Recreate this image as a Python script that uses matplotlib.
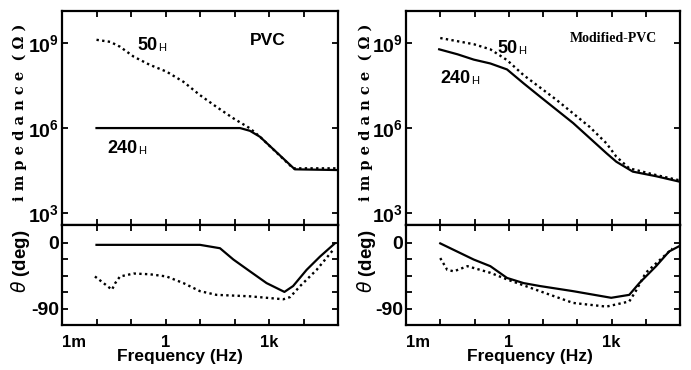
import matplotlib
matplotlib.use("Agg")
import matplotlib.pyplot as plt
from matplotlib.ticker import FixedLocator, NullLocator

# ---- data (frequency in Hz, impedance in ohm, phase in deg)
pvc_50h_f = [0.01, 0.025, 0.048, 0.12, 0.35, 1.07, 3.3, 10, 30, 93, 280, 550, 5000, 1e5]
pvc_50h_z = [1.3e9, 1.1e9, 7.4e8, 3.3e8, 1.7e8, 9.8e7, 4.3e7, 1.45e7, 5.6e6, 2.2e6,
             9.8e5, 4.9e5, 3.8e4, 3.8e4]
pvc_240h_f = [0.01, 145, 280, 550, 5600, 1e5]
pvc_240h_z = [1e6, 1e6, 8e5, 4.9e5, 3.5e4, 3.3e4]

pvc_240h_pf = [0.01, 10, 38, 93, 280, 850, 2800, 5000, 12300, 30000, 81000]
pvc_240h_deg = [-3, -3, -7.6, -23, -39, -55, -67, -59, -37, -19, -1]
pvc_50h_pf = [0.009, 0.016, 0.028, 0.035, 0.048, 0.12, 0.35, 1.07, 3.3, 10, 30, 280,
              2600, 4100, 8000, 24000, 72000]
pvc_50h_deg = [-46, -55, -64, -55, -46, -42, -43, -46, -55, -66, -71, -73, -77, -74,
               -59, -37, -10]

mod_50h_f = [0.01, 0.095, 0.29, 0.89, 2.7, 25, 230, 710, 1380, 3300, 20000, 93000]
mod_50h_z = [1.5e9, 9.1e8, 6e8, 2.5e8, 7.4e7, 9.8e6, 1.1e6, 2.9e5, 9.8e4, 3.8e4,
             2.2e4, 1.45e4]
mod_240h_f = [0.0093, 0.032, 0.095, 0.29, 0.89, 2.7, 8.1, 76, 710, 1380, 4200, 20000, 93000]
mod_240h_z = [6e8, 4e8, 2.6e8, 1.9e8, 1.17e8, 3.8e7, 1.3e7, 1.5e6, 1.3e5, 6.5e4,
              2.9e4, 2e4, 1.3e4]

mod_240h_pf = [0.01, 0.095, 0.29, 0.89, 2.7, 8.1, 76, 980, 3300, 6500, 20000, 48000, 93000]
mod_240h_deg = [-1, -23, -32, -48, -55, -59, -66, -75, -71, -55, -32, -12, -5]
mod_50h_pf = [0.01, 0.016, 0.025, 0.062, 0.29, 0.89, 8.1, 76, 710, 3300, 5100, 10000, 60000]
mod_50h_deg = [-21, -37, -39, -32, -41, -50, -66, -82, -87, -80, -66, -41, -8]

freq_ticks = [1e-3, 1e-2, 1e-1, 1, 10, 100, 1e3, 1e4, 1e5]
freq_labels = ["1m", "", "", "1", "", "", "1k", "", ""]
z_ticks = [1e3, 1e6, 1e9]
z_labels = ["$10^3$", "$10^6$", "$10^9$"]
deg_ticks = [0, -22.5, -45, -67.5, -90]
deg_labels = ["0", "", "", "", "-90"]

SANS = "Liberation Sans"
SERIF = "DejaVu Serif"
W, H = 691, 370

plt.rcParams["mathtext.fontset"] = "custom"
plt.rcParams["mathtext.bf"] = "Liberation Sans:bold"
plt.rcParams["mathtext.default"] = "bf"


def box(x0, y0, x1, y1):
    # pixel box (top-left origin) -> figure fraction
    return [x0 / W, 1 - y1 / H, (x1 - x0) / W, (y1 - y0) / H]


def style(ax):
    for s in ax.spines.values():
        s.set_linewidth(1.6)
    ax.tick_params(which="both", direction="in", top=True, right=True,
                   length=4.5, width=1.3, pad=2)
    ax.set_xscale("log")
    ax.set_xlim(1e-3, 1e5)
    ax.xaxis.set_major_locator(FixedLocator(freq_ticks))
    ax.xaxis.set_minor_locator(NullLocator())


def half_label(ax, x, y, big, small):
    t = ax.text(x, y, big, transform=ax.transAxes, fontsize=13, family=SANS,
                fontweight="bold", va="baseline", ha="left")
    ax.annotate(small, xy=(1.05, 0.05), xycoords=t, fontsize=8, family=SANS,
                va="bottom", ha="left")


fig = plt.figure(figsize=(W / 100, H / 100), dpi=100)

panels = [
    (62, 338, (pvc_50h_f, pvc_50h_z, pvc_240h_f, pvc_240h_z),
     (pvc_50h_pf, pvc_50h_deg, pvc_240h_pf, pvc_240h_deg), 20, 180),
    (406, 680, (mod_50h_f, mod_50h_z, mod_240h_f, mod_240h_z),
     (mod_50h_pf, mod_50h_deg, mod_240h_pf, mod_240h_deg), 366, 530),
]

axes_top = []
for x0, x1, zdata, pdata, ylab_x, xlab_x in panels:
    ax1 = fig.add_axes(box(x0, 11, x1, 225))
    ax2 = fig.add_axes(box(x0, 225, x1, 325))
    style(ax1)
    style(ax2)

    f50, z50, f240, z240 = zdata
    ax1.plot(f50, z50, color="black", lw=1.7, linestyle=(0, (1, 1.4)))
    ax1.plot(f240, z240, color="black", lw=1.6)
    ax1.set_yscale("log")
    ax1.set_ylim(10 ** 2.58, 10 ** 10.13)
    ax1.yaxis.set_major_locator(FixedLocator(z_ticks))
    ax1.yaxis.set_minor_locator(NullLocator())
    ax1.set_yticklabels(z_labels, fontsize=14)
    ax1.set_xticklabels([])

    pf50, d50, pf240, d240 = pdata
    ax2.plot(pf50, d50, color="black", lw=1.7, linestyle=(0, (1, 1.4)))
    ax2.plot(pf240, d240, color="black", lw=1.6)
    ax2.set_ylim(-112, 24)
    ax2.yaxis.set_major_locator(FixedLocator(deg_ticks))
    ax2.set_yticklabels(deg_labels, fontsize=14, family=SANS, fontweight="bold")
    ax2.set_xticklabels(freq_labels, fontsize=12, family=SANS, fontweight="bold")
    ax2.tick_params(axis="x", pad=7)
    ax2.get_xticklabels()[0].set_horizontalalignment("left")

    fig.text(ylab_x / W, 1 - 112 / H, "i m p e d a n c e  ( Ω )", rotation=90,
             family=SERIF, fontsize=10.5, fontweight="bold", ha="center", va="center")
    fig.text(ylab_x / W, 1 - 261 / H, r"$\mathit{\theta}$ (deg)", rotation=90,
             family=SANS, fontsize=13.5, fontweight="bold", ha="center", va="center")
    fig.text(xlab_x / W, 1 - 357 / H, "Frequency (Hz)", family=SANS,
             fontsize=12.5, fontweight="bold", ha="center", va="center")
    axes_top.append(ax1)

left, right = axes_top
half_label(left, 0.272, 0.818, "50", "H")
half_label(left, 0.163, 0.336, "240", "H")
left.text(0.681, 0.841, "PVC", transform=left.transAxes, fontsize=12.5, family=SANS,
          fontweight="bold", va="baseline")
half_label(right, 0.332, 0.804, "50", "H")
half_label(right, 0.124, 0.664, "240", "H")
right.text(0.599, 0.855, "Modified-PVC", transform=right.transAxes, fontsize=10,
           family="Liberation Serif", fontweight="bold", va="baseline")

fig.savefig("out.png", dpi=100)
